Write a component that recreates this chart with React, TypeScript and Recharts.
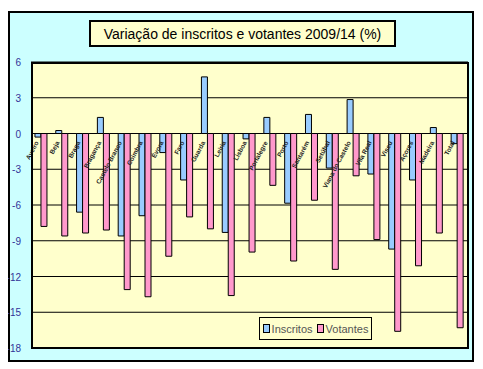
import { BarChart, Bar, XAxis, YAxis, CartesianGrid, LabelList } from 'recharts';

const categories = [
  'Aveiro', 'Beja', 'Braga', 'Bragança', 'Castelo Branco', 'Coimbra', 'Évora',
  'Faro', 'Guarda', 'Leiria', 'Lisboa', 'Portalegre', 'Porto', 'Santarém',
  'Setúbal', 'Viana do Castelo', 'Vila Real', 'Viseu', 'Açores', 'Madeira', 'Total',
];
const inscritos = [
  -0.3, 0.25, -6.6, 1.35, -8.6, -6.9, -1.6, -3.9, 4.75, -8.3, -0.45,
  1.35, -5.85, 1.6, -2.9, 2.85, -3.4, -9.7, -3.9, 0.5, -0.85,
];
const votantes = [
  -7.8, -8.6, -8.35, -8.1, -13.1, -13.7, -10.3, -7.0, -8.0, -13.6, -9.95,
  -4.35, -10.7, -5.6, -11.4, -3.55, -8.9, -16.6, -11.1, -8.35, -16.3,
];
const yTicks = [-18, -15, -12, -9, -6, -3, 0, 3, 6];
const series = [
  { key: 'inscritos', label: 'Inscritos' },
  { key: 'votantes', label: 'Votantes' },
];

const data = categories.map((name, i) => ({ name, inscritos: inscritos[i], votantes: votantes[i] }));

const BLUE = '#99CCFF';
const PINK = '#FF99CC';
const YELLOW = '#FFFFCC';
const colors: Record<string, string> = { inscritos: BLUE, votantes: PINK };

// category names sit on the zero line, like the Excel axis crossing
const CatLabel = (p: any) => {
  const x = Number(p.x), y = Number(p.y), w = Number(p.width), h = Number(p.height);
  const v = inscritos[p.index] ?? 0;
  const zero = h < 0 || v >= 0 ? y + h : y;
  const cx = x + w - 2;
  const cy = zero + 9;
  return (
    <text x={cx} y={cy} transform={`rotate(-62 ${cx} ${cy})`} textAnchor="end"
      fontSize={6.5} fill="#222" fontWeight="bold" fontFamily="Liberation Sans, sans-serif">
      {categories[p.index]}
    </text>
  );
};

const YTick = (p: any) => (
  <text x={p.x} y={p.y} dy={4} textAnchor="end" fontSize={10} fill="#333399"
    fontFamily="Liberation Sans, sans-serif">
    {p.payload.value}
  </text>
);

export default function App() {
  return (
    <div style={{ position: 'relative', width: 467, height: 355 }}>
      <div style={{
        position: 'absolute', left: 0, top: 3, width: 466, height: 351, boxSizing: 'border-box',
        background: '#CCFFFF', border: '2px solid #000',
      }} />
      <div style={{ position: 'absolute', left: 0, top: 0 }}>
        <BarChart width={467} height={354} data={data} barCategoryGap="19%" barGap={0}
          margin={{ top: 54, right: 7, bottom: 14, left: 5 }}>
          <CartesianGrid vertical={false} stroke="#000" strokeWidth={1} fill={YELLOW} />
          <XAxis dataKey="name" hide />
          <YAxis domain={[-18, 6]} ticks={yTicks} width={18} axisLine={false} tickLine={false}
            tickMargin={4} interval={0} tick={<YTick />} />
          <Bar dataKey="inscritos" name="Inscritos" fill={BLUE} stroke="#000" strokeWidth={1} isAnimationActive={false}>
            <LabelList dataKey="inscritos" content={<CatLabel />} />
          </Bar>
          <Bar dataKey="votantes" name="Votantes" fill={PINK} stroke="#000" strokeWidth={1} isAnimationActive={false} />
        </BarChart>
      </div>
      <div style={{
        position: 'absolute', left: 23, top: 54, width: 438, height: 287, boxSizing: 'border-box',
        border: '2px solid #000', pointerEvents: 'none',
      }} />
      <div style={{
        position: 'absolute', left: 81, top: 12, width: 307, height: 27, boxSizing: 'border-box',
        background: YELLOW, border: '2px solid #000', display: 'flex', alignItems: 'center',
        justifyContent: 'center', fontFamily: 'Liberation Sans, sans-serif', fontSize: 14, color: '#000',
      }}>
        Variação de inscritos e votantes 2009/14 (%)
      </div>
      <div style={{
        position: 'absolute', left: 251, top: 309, width: 113, height: 23, boxSizing: 'border-box',
        border: '1.5px solid #000', background: YELLOW, display: 'flex', alignItems: 'center',
        justifyContent: 'center', gap: 4, fontFamily: 'Liberation Sans, sans-serif', fontSize: 11, color: '#555',
      }}>
        {series.map((s) => (
          <span key={s.key} style={{ display: 'flex', alignItems: 'center', gap: 2 }}>
            <span style={{ width: 5, height: 7, background: colors[s.key], border: '1px solid #000', display: 'inline-block' }} />
            {s.label}
          </span>
        ))}
      </div>
    </div>
  );
}
